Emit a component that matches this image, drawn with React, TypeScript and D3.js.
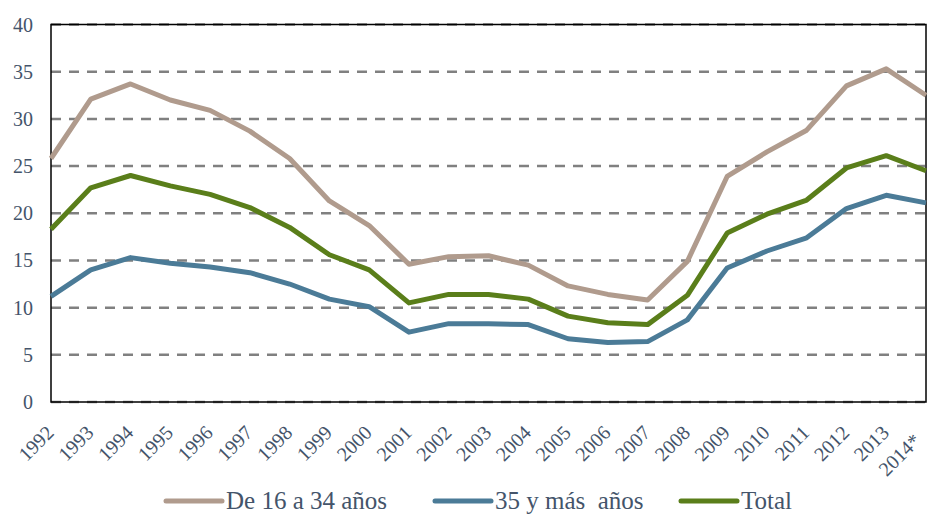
import React from "react";
import * as d3 from "d3";

const years = ["1992","1993","1994","1995","1996","1997","1998","1999","2000","2001","2002","2003","2004","2005","2006","2007","2008","2009","2010","2011","2012","2013","2014*"];
const young = [25.8,32.1,33.7,32.0,30.9,28.7,25.8,21.3,18.7,14.6,15.4,15.5,14.5,12.3,11.4,10.8,14.9,23.9,26.5,28.8,33.5,35.3,32.5];
const older = [11.2,14.0,15.3,14.7,14.3,13.7,12.5,10.9,10.1,7.4,8.3,8.3,8.2,6.7,6.3,6.4,8.7,14.2,16.0,17.4,20.5,21.9,21.1];
const total = [18.3,22.7,24.0,22.9,22.0,20.6,18.5,15.6,14.0,10.5,11.4,11.4,10.9,9.1,8.4,8.2,11.3,17.9,19.9,21.4,24.8,26.1,24.5];
const yTicks = [0,5,10,15,20,25,30,35,40];
const seriesNames = ["De 16 a 34 años", "35 y más  años", "Total"];

const W = 929, H = 515;
const L = 51, R = 926, T = 24.5, B = 402;
const colors = ["#b09b8d", "#4b7b97", "#5a7e1a"];
const textColor = "#44546a";
const FONT = "'Liberation Serif', 'Times New Roman', Times, 'Noto Serif', 'DejaVu Serif', FreeSerif, 'Nimbus Roman', 'Nimbus Roman No9 L', serif";

export default function App() {
  const x = d3.scalePoint<string>().domain(years).range([L, R]);
  const y = d3.scaleLinear().domain([0, 40]).range([B, T]);
  const line = d3.line<number>().x((_, i) => x(years[i])!).y(d => y(d));
  const series = [young, older, total];
  const legendX = [166, 435, 681];
  return (
    <svg width={W} height={H} style={{ position: "absolute", left: 0, top: 0, fontFamily: FONT }}>
      <rect x={0} y={0} width={W} height={H} fill="#fff" />
      {yTicks.map(t => (
        <line key={t} x1={L} x2={R} y1={y(t)} y2={y(t)} stroke="#808080" strokeWidth={2.5} strokeDasharray="10,8" />
      ))}
      <rect x={L} y={T} width={R - L} height={B - T} fill="none" stroke="#000" strokeWidth={1.5} />
      {yTicks.map(t => (
        <text key={t} x={33} y={y(t)} dy="0.35em" textAnchor="end" fontSize={20} fill={textColor} style={{ fontFamily: FONT }}>{t}</text>
      ))}
      {years.map(yr => {
        let ax = x(yr)! + 4;
        let ay = 434;
        if (ax > 922) { const d = ax - 922; ax -= d; ay += d; }
        return (
          <text key={yr} transform={`translate(${ax},${ay}) rotate(-45)`} textAnchor="end" fontSize={20} fill={textColor} style={{ fontFamily: FONT }}>{yr}</text>
        );
      })}
      {series.map((s, i) => (
        <path key={i} d={line(s)!} fill="none" stroke={colors[i]} strokeWidth={5} strokeLinejoin="round" />
      ))}
      {seriesNames.map((n, i) => (
        <g key={n}>
          <line x1={legendX[i]} x2={legendX[i] + 56} y1={501} y2={501} stroke={colors[i]} strokeWidth={5} strokeLinecap="round" />
          <text x={legendX[i] + 60} y={509} fontSize={25} fill={textColor} style={{ whiteSpace: "pre", fontFamily: FONT }}>{n}</text>
        </g>
      ))}
    </svg>
  );
}
